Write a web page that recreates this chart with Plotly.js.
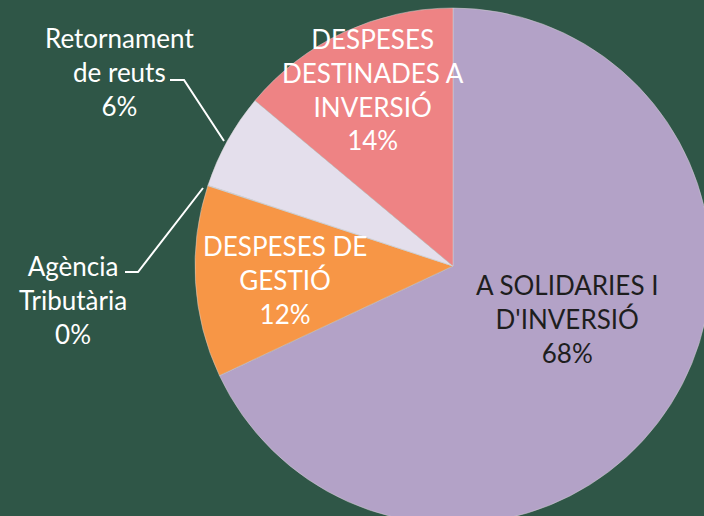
<!DOCTYPE html>
<html>
<head>
<meta charset="utf-8">
<script src="https://cdn.plot.ly/plotly-3.0.1.min.js"></script>
<style>
html,body{margin:0;padding:0;overflow:hidden;background:#2f5647;width:704px;height:516px;}
#chart{width:906px;height:532px;}
</style>
</head>
<body>
<div id="chart"></div>
<script>
// ---- data ----
const categories = ["A SOLIDARIES I D'INVERSIÓ", "DESPESES DE GESTIÓ", "Agència Tributària", "Retornament de reuts", "DESPESES DESTINADES A INVERSIÓ"];
const displayLabels = ["A SOLIDARIES I<br>D'INVERSIÓ", "DESPESES DE<br>GESTIÓ", "Agència<br>Tributària", "Retornament<br>de reuts", "DESPESES<br>DESTINADES A<br>INVERSIÓ"];
const values = [67.9, 12.0, 0.03, 6.0, 13.9];
const sliceColors = ["#b3a2c7", "#f79646", "#e4dfec", "#e4dfec", "#ee8384"];

const W = 906, H = 532, T = 8, B = 8;
const px = x => x / W;
const py = y => 1 - (y - T) / (H - T - B);

const total = values.reduce((a, b) => a + b, 0);
const pct = values.map(v => Math.round(v / total * 100) + "%");

// label placement (pixel positions in page) and text colours
const labelPos = [[567, 319], [285, 280], [73, 300], [119, 72], [373, 89]];
const labelColor = ["#1e1e1e", "#ffffff", "#ffffff", "#ffffff", "#ffffff"];

const annotations = categories.map((c, i) => ({
  xref: "paper", yref: "paper",
  x: px(labelPos[i][0]), y: py(labelPos[i][1]),
  xanchor: "center", yanchor: "middle", align: "center",
  showarrow: false,
  text: displayLabels[i] + "<br>" + pct[i],
  font: {family: "Lato, 'Open Sans', sans-serif", size: 26, color: labelColor[i]}
}));

const path = pts => pts.map((p, i) => (i ? "L" : "M") + px(p[0]) + "," + py(p[1])).join(" ");
const shapes = [
  {type: "path", xref: "paper", yref: "paper", path: path([[170, 80], [184, 80], [224, 141]]), line: {color: "#ffffff", width: 2}},
  {type: "path", xref: "paper", yref: "paper", path: path([[125, 272], [138, 272], [203, 188]]), line: {color: "#ffffff", width: 2}}
];

Plotly.newPlot("chart", [{
  type: "pie",
  labels: categories,
  values: values,
  sort: false,
  direction: "clockwise",
  rotation: 0,
  textinfo: "none",
  hoverinfo: "label+percent",
  marker: {colors: sliceColors, line: {color: "#d0d0d0", width: 0.5}},
  showlegend: false
}], {
  width: W, height: H,
  margin: {l: 0, r: 0, t: T, b: B, pad: 0},
  paper_bgcolor: "#2f5647",
  plot_bgcolor: "#2f5647",
  showlegend: false,
  annotations: annotations,
  shapes: shapes
}, {staticPlot: true, displayModeBar: false});
</script>
</body>
</html>
